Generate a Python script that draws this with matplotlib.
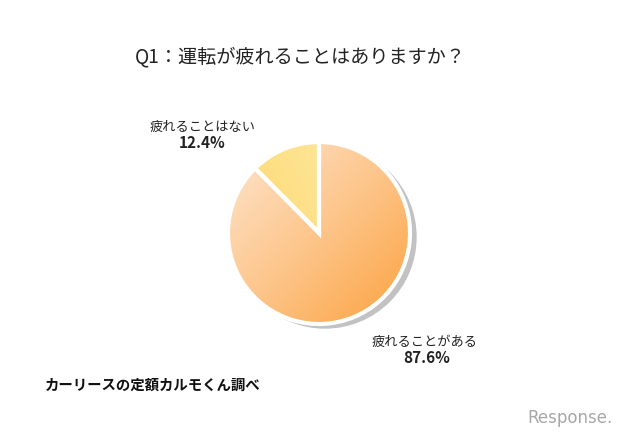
import numpy as np
import matplotlib.pyplot as plt
from matplotlib.colors import LinearSegmentedColormap
from matplotlib.patches import Circle

plt.rcParams['font.family'] = ['Noto Sans CJK JP', 'DejaVu Sans']

# Data
title = "Q1：運転が疲れることはありますか？"
labels = ["疲れることはない", "疲れることがある"]
values = [12.4, 87.6]
source = "カーリースの定額カルモくん調べ"

fig = plt.figure(figsize=(6.4, 4.43), dpi=100)
fig.patch.set_facecolor("white")

# pie axes: center (319, 233) px, radius 91 px, limits padded for the shadow
cx, cy, r = 319, 233, 91
pad = 1.15
half = r * pad
ax = fig.add_axes([(cx - half) / 640, (443 - cy - half) / 443, 2 * half / 640, 2 * half / 443])
ax.axis("off")

# drop shadow
ax.add_patch(Circle((6 / r, -4 / r), 1.0, color="#c2c2c2", zorder=0))

wedges, _ = ax.pie(values, startangle=90, counterclock=True, radius=1.0,
                   colors=["#fde08a", "#fdb868"],
                   wedgeprops=dict(edgecolor="white", linewidth=3))
ax.set_xlim(-pad, pad)
ax.set_ylim(-pad, pad)
ax.set_aspect("equal")

# gradient fills clipped to the wedges
n = 200
gx, gy = np.meshgrid(np.linspace(0, 1, n), np.linspace(0, 1, n))
orange = LinearSegmentedColormap.from_list("o", ["#fde6cf", "#fdc58a", "#fca23f"])
yellow = LinearSegmentedColormap.from_list("y", ["#fdd460", "#feeeb4"])
grad_o = (gx + (1 - gy)) / 2  # top-left light -> bottom-right dark (origin lower)
grad_y = gx * 0.7 + gy * 0.3
for w, cmap, g in [(wedges[0], yellow, grad_y), (wedges[1], orange, grad_o)]:
    im = ax.imshow(g, cmap=cmap, extent=[-1, 1, -1, 1], origin="lower",
                   interpolation="bilinear", zorder=1)
    im.set_clip_path(w)
    w.set_facecolor("none")
    w.set_zorder(2)
ax.set_xlim(-pad, pad)
ax.set_ylim(-pad, pad)

# texts
fig.text(300 / 640, 1 - 57 / 443, title, ha="center", va="center",
         fontsize=13.8, color="#222222")
fig.text(203 / 640, 1 - 127 / 443, labels[0], ha="center", va="center",
         fontsize=9.5, color="#222222")
fig.text(202 / 640, 1 - 143 / 443, f"{values[0]}%", ha="center", va="center",
         fontsize=11, fontweight="bold", color="#222222")
fig.text(425 / 640, 1 - 342 / 443, labels[1], ha="center", va="center",
         fontsize=9.5, color="#222222")
fig.text(427 / 640, 1 - 358 / 443, f"{values[1]}%", ha="center", va="center",
         fontsize=11, fontweight="bold", color="#222222")
fig.text(45 / 640, 1 - 386 / 443, source, ha="left", va="center",
         fontsize=10.4, fontweight="bold", color="#111111")

# watermark
fig.text(570 / 640, 1 - 418 / 443, "Response.", ha="center", va="center",
         fontsize=12, color="#a8a8a8", family="DejaVu Sans")

fig.savefig("out.png", dpi=100)
